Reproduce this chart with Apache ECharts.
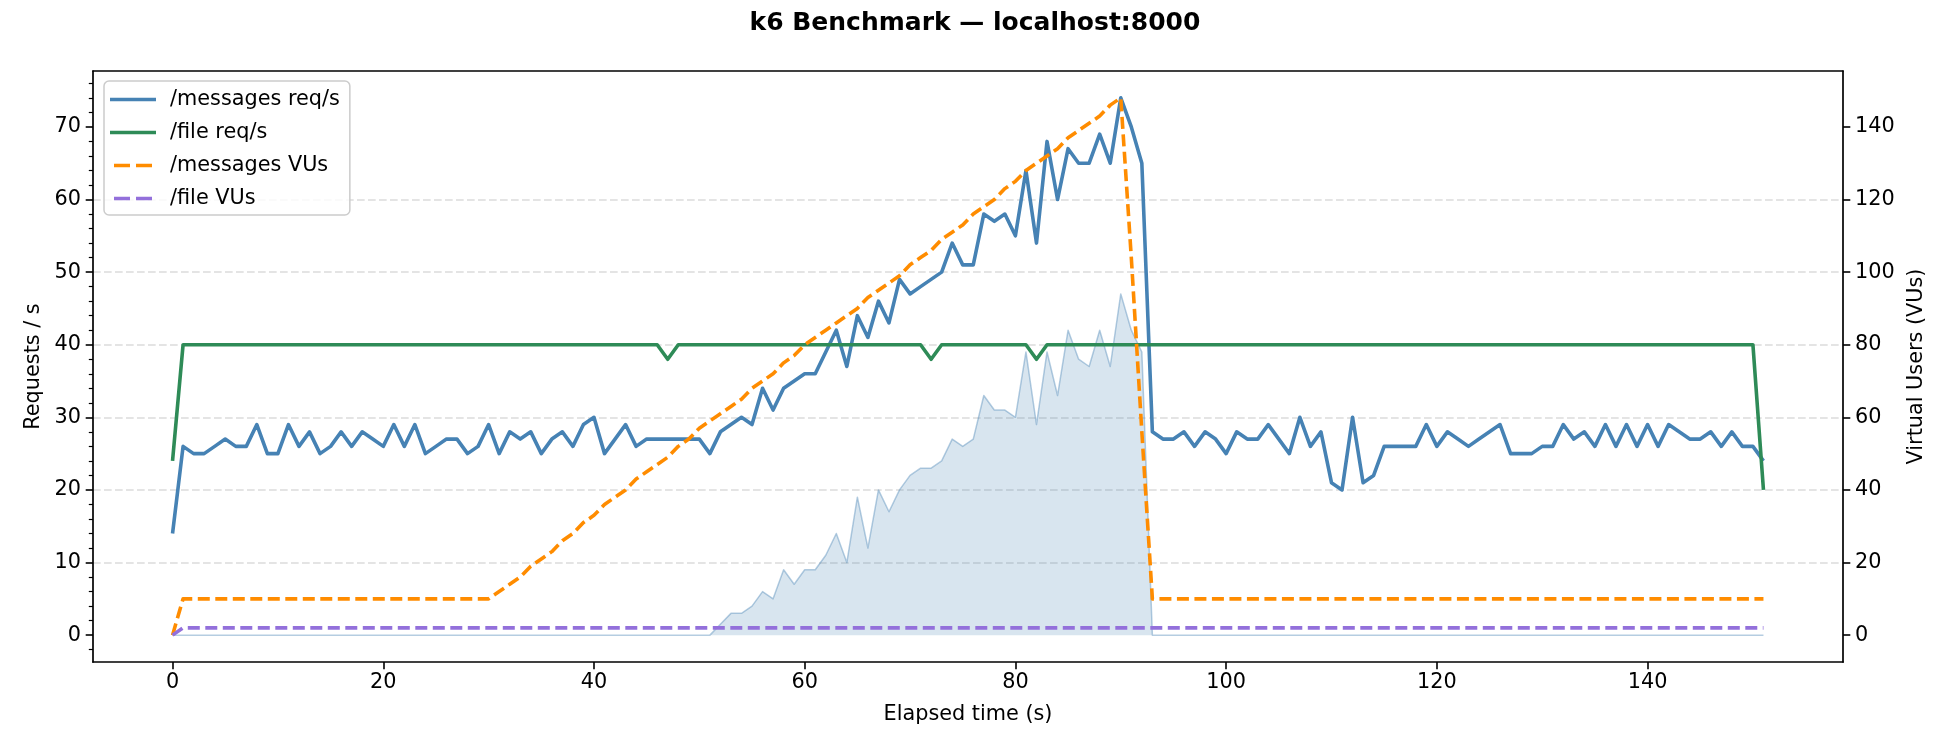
<!DOCTYPE html>
<html>
<head>
    <meta charset="utf-8">
    <title>k6 Benchmark</title>
    <script src="https://cdn.jsdelivr.net/npm/echarts@6.0.0/dist/echarts.min.js"></script>
    <style>
        html, body { margin: 0; padding: 0; background: #fff; }
    </style>
</head>
<body>
    <div id="main" style="width: 1950px;height:750px;"></div>
    <script type="text/javascript">
        // one sample per second, t = 0..151
        var messagesReq = [
            14,26,25,25,26,27,26,26,29,25,25,29,26,28,25,26,28,26,28,27,
            26,29,26,29,25,26,27,27,25,26,29,25,28,27,28,25,27,28,26,29,
            30,25,27,29,26,27,27,27,27,27,27,25,28,29,30,29,34,31,34,35,
            36,36,39,42,37,44,41,46,43,49,47,48,49,50,54,51,51,58,57,58,
            55,64,54,68,60,67,65,65,69,65,74,70,65,28,27,27,28,26,28,27,
            25,28,27,27,29,27,25,30,26,28,21,20,30,21,22,26,26,26,26,29,
            26,28,27,26,27,28,29,25,25,25,26,26,29,27,28,26,29,26,29,26,
            29,26,29,28,27,27,28,26,28,26,26,24
        ];
        var fileReq = [
            24,40,40,40,40,40,40,40,40,40,40,40,40,40,40,40,40,40,40,40,
            40,40,40,40,40,40,40,40,40,40,40,40,40,40,40,40,40,40,40,40,
            40,40,40,40,40,40,40,38,40,40,40,40,40,40,40,40,40,40,40,40,
            40,40,40,40,40,40,40,40,40,40,40,40,38,40,40,40,40,40,40,40,
            40,40,38,40,40,40,40,40,40,40,40,40,40,40,40,40,40,40,40,40,
            40,40,40,40,40,40,40,40,40,40,40,40,40,40,40,40,40,40,40,40,
            40,40,40,40,40,40,40,40,40,40,40,40,40,40,40,40,40,40,40,40,
            40,40,40,40,40,40,40,40,40,40,40,20
        ];
        var messagesVus = [
            0,10,10,10,10,10,10,10,10,10,10,10,10,10,10,10,10,10,10,10,
            10,10,10,10,10,10,10,10,10,10,10,12,14,16,19,21,23,26,28,31,
            33,36,38,40,43,45,47,49,52,54,57,59,61,63,65,68,70,72,75,77,
            80,82,84,86,88,90,93,95,97,99,102,104,106,109,111,113,116,118,120,123,
            125,128,130,132,134,137,139,141,143,146,148,104,56,10,10,10,10,10,10,10,
            10,10,10,10,10,10,10,10,10,10,10,10,10,10,10,10,10,10,10,10,
            10,10,10,10,10,10,10,10,10,10,10,10,10,10,10,10,10,10,10,10,
            10,10,10,10,10,10,10,10,10,10,10,10
        ];
        var fileVus = [
            0,2,2,2,2,2,2,2,2,2,2,2,2,2,2,2,2,2,2,2,
            2,2,2,2,2,2,2,2,2,2,2,2,2,2,2,2,2,2,2,2,
            2,2,2,2,2,2,2,2,2,2,2,2,2,2,2,2,2,2,2,2,
            2,2,2,2,2,2,2,2,2,2,2,2,2,2,2,2,2,2,2,2,
            2,2,2,2,2,2,2,2,2,2,2,2,2,2,2,2,2,2,2,2,
            2,2,2,2,2,2,2,2,2,2,2,2,2,2,2,2,2,2,2,2,
            2,2,2,2,2,2,2,2,2,2,2,2,2,2,2,2,2,2,2,2,
            2,2,2,2,2,2,2,2,2,2,2,2
        ];
        // shaded band under the lines (left axis), no legend entry
        var shaded = [
            0,0,0,0,0,0,0,0,0,0,0,0,0,0,0,0,0,0,0,0,
            0,0,0,0,0,0,0,0,0,0,0,0,0,0,0,0,0,0,0,0,
            0,0,0,0,0,0,0,0,0,0,0,0,1.5,3,3,4,6,5,9,7,
            9,9,11,14,10,19,12,20,17,20,22,23,23,24,27,26,27,33,31,31,
            30,39,29,39,33,42,38,37,42,37,47,42,39,0,0,0,0,0,0,0,
            0,0,0,0,0,0,0,0,0,0,0,0,0,0,0,0,0,0,0,0,
            0,0,0,0,0,0,0,0,0,0,0,0,0,0,0,0,0,0,0,0,
            0,0,0,0,0,0,0,0,0,0,0,0
        ];
        var xTicks = [0, 20, 40, 60, 80, 100, 120, 140];
        var reqTicks = [0, 10, 20, 30, 40, 50, 60, 70];
        var vuTicks = [0, 20, 40, 60, 80, 100, 120, 140];

        var SAMPLE_SEC = 1;
        function pairs(arr) {
            return arr.map(function (v, i) { return [i * SAMPLE_SEC, v]; });
        }

        var FONT = 'DejaVu Sans';
        var FS = 20.8;
        var LW = 3.6;
        // legend handles: solid bar / two dashes
        var solidIcon = 'path://M0,0H46V3.6H0Z';
        var dashIcon = 'path://M0,0H16V3.6H0Z M22,0H38V3.6H22Z';
        var tickStyle = { show: true, length: 7.3, lineStyle: { color: '#000', width: 1.6 } };
        var lineAxis = { show: true, onZero: false, lineStyle: { color: '#000', width: 1.7 } };
        var labelStyle = { color: '#000', fontSize: FS, fontFamily: FONT };
        var nameStyle = { color: '#000', fontSize: FS, fontFamily: FONT };

        var myChart = echarts.init(document.getElementById('main'), null, { renderer: 'canvas' });
        var option = {
            animation: false,
            backgroundColor: '#fff',
            title: {
                text: 'k6 Benchmark — localhost:8000',
                left: 'center',
                top: 11,
                padding: 0,
                textStyle: { fontSize: 25, fontWeight: 'bold', color: '#000', fontFamily: FONT }
            },
            legend: {
                data: [
                    { name: '/messages req/s', icon: solidIcon },
                    { name: '/file req/s', icon: solidIcon },
                    { name: '/messages VUs', icon: dashIcon },
                    { name: '/file VUs', icon: dashIcon }
                ],
                orient: 'vertical',
                left: 104,
                top: 81,
                padding: [8, 10, 6, 6],
                itemGap: 12,
                itemWidth: 46,
                itemHeight: 3.6,
                symbolKeepAspect: true,
                backgroundColor: 'rgba(255,255,255,0.8)',
                borderColor: '#cccccc',
                borderWidth: 1.5,
                borderRadius: 5,
                textStyle: { color: '#000', fontSize: FS, fontFamily: FONT, padding: [0, 0, 0, 9] }
            },
            grid: { left: 93, right: 107, top: 71, bottom: 88 },
            xAxis: [{
                type: 'value',
                min: -7.55,
                max: 158.55,
                splitNumber: 8,
                name: 'Elapsed time (s)',
                nameLocation: 'middle',
                nameGap: 42,
                nameTextStyle: nameStyle,
                axisLine: lineAxis,
                axisTick: Object.assign({ customValues: xTicks }, tickStyle),
                axisLabel: Object.assign({ customValues: xTicks, margin: 10 }, labelStyle),
                splitLine: { show: false }
            }, {
                type: 'value',
                position: 'top',
                min: -7.55,
                max: 158.55,
                axisLine: lineAxis,
                axisTick: { show: false },
                axisLabel: { show: false },
                splitLine: { show: false }
            }],
            yAxis: [{
                type: 'value',
                position: 'left',
                min: -3.7,
                max: 77.7,
                splitNumber: 8,
                name: 'Requests / s',
                nameLocation: 'middle',
                nameRotate: 90,
                nameGap: 48,
                nameTextStyle: nameStyle,
                axisLine: lineAxis,
                axisTick: Object.assign({ customValues: reqTicks }, tickStyle),
                minorTick: { show: true, splitNumber: 5, length: 4.2, lineStyle: { color: '#000', width: 1.2 } },
                axisLabel: Object.assign({ customValues: reqTicks, margin: 12 }, labelStyle),
                splitLine: {
                    show: true,
                    showMinLine: false,
                    showMaxLine: false,
                    lineStyle: { color: '#dcdcdc', width: 1.5, type: [7.7, 3.3] }
                },
                minorSplitLine: { show: false }
            }, {
                type: 'value',
                position: 'right',
                min: -7.4,
                max: 155.4,
                splitNumber: 8,
                name: 'Virtual Users (VUs)',
                nameLocation: 'middle',
                nameRotate: 90,
                nameGap: 63,
                nameTextStyle: nameStyle,
                axisLine: lineAxis,
                axisTick: Object.assign({ customValues: vuTicks }, tickStyle),
                axisLabel: Object.assign({ customValues: vuTicks, margin: 12 }, labelStyle),
                splitLine: { show: false }
            }],
            series: [{
                name: 'shaded',
                type: 'line',
                yAxisIndex: 0,
                data: pairs(shaded),
                symbol: 'none',
                z: 1,
                lineStyle: { color: 'rgba(70,130,180,0.4)', width: 1.5, join: 'round' },
                areaStyle: { color: 'rgba(70,130,180,0.3)' }
            }, {
                name: '/messages req/s',
                type: 'line',
                yAxisIndex: 0,
                data: pairs(messagesReq),
                symbol: 'none',
                z: 2,
                color: '#4682b4',
                lineStyle: { color: '#4682b4', width: LW, join: 'round' }
            }, {
                name: '/file req/s',
                type: 'line',
                yAxisIndex: 0,
                data: pairs(fileReq),
                symbol: 'none',
                z: 3,
                color: '#2e8b57',
                lineStyle: { color: '#2e8b57', width: LW, join: 'round' }
            }, {
                name: '/messages VUs',
                type: 'line',
                yAxisIndex: 1,
                data: pairs(messagesVus),
                symbol: 'none',
                z: 4,
                color: '#ff8c00',
                lineStyle: { color: '#ff8c00', width: LW, type: [12, 5.5], cap: 'butt', join: 'round' }
            }, {
                name: '/file VUs',
                type: 'line',
                yAxisIndex: 1,
                data: pairs(fileVus),
                symbol: 'none',
                z: 5,
                color: '#9370db',
                lineStyle: { color: '#9370db', width: LW, type: [12, 5.5], cap: 'butt', join: 'round' }
            }]
        };
        myChart.setOption(option);
    </script>
</body>
</html>
